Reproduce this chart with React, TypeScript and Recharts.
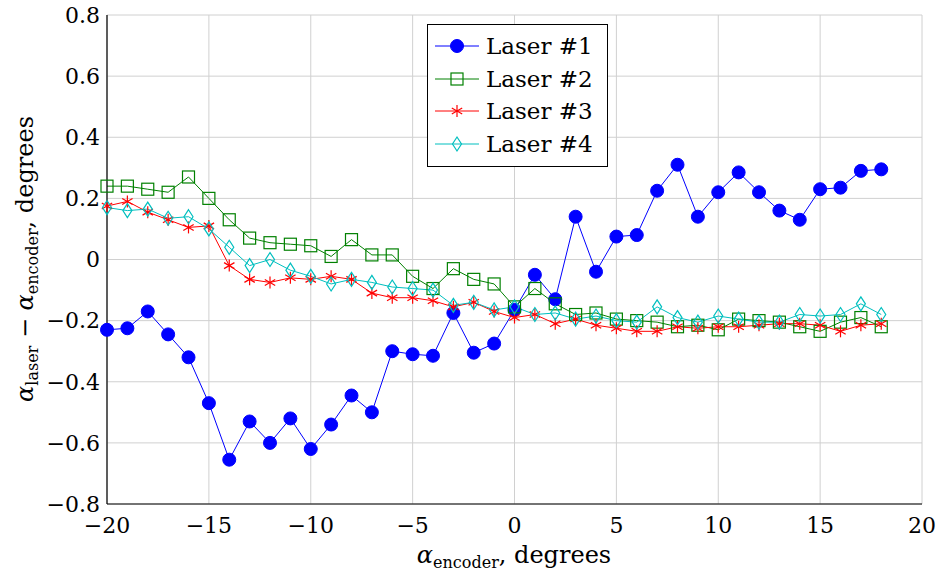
import React from 'react';
import {
  LineChart,
  Line,
  XAxis,
  YAxis,
  CartesianGrid
} from 'recharts';

const encoderAngles = [
  -20, -19, -18, -17, -16, -15, -14, -13, -12, -11, -10, -9, -8, -7, -6, -5, -4, -3, -2, -1,
  0, 1, 2, 3, 4, 5, 6, 7, 8, 9, 10, 11, 12, 13, 14, 15, 16, 17, 18
];

const laser1 = [
  -0.23, -0.225, -0.17, -0.245, -0.32, -0.47, -0.655, -0.53, -0.6, -0.52, -0.62, -0.54, -0.445, -0.5,
  -0.3, -0.31, -0.315, -0.175, -0.305, -0.275, -0.165, -0.05, -0.13, 0.14, -0.04, 0.075, 0.08, 0.225,
  0.31, 0.14, 0.22, 0.285, 0.22, 0.16, 0.13, 0.23, 0.235, 0.29, 0.295
];

const laser2 = [
  0.24, 0.24, 0.23, 0.22, 0.27, 0.2, 0.13, 0.07, 0.055, 0.05, 0.045, 0.01, 0.065, 0.015, 0.015,
  -0.055, -0.095, -0.03, -0.065, -0.08, -0.155, -0.095, -0.145, -0.18, -0.175, -0.195, -0.2, -0.205,
  -0.22, -0.215, -0.23, -0.195, -0.2, -0.205, -0.22, -0.235, -0.205, -0.19, -0.22
];

const laser3 = [
  0.175, 0.19, 0.155, 0.13, 0.105, 0.11, -0.02, -0.065, -0.075, -0.06, -0.065, -0.055, -0.065, -0.11,
  -0.125, -0.125, -0.135, -0.155, -0.14, -0.17, -0.19, -0.18, -0.21, -0.195, -0.215, -0.225, -0.235,
  -0.235, -0.22, -0.225, -0.22, -0.22, -0.215, -0.21, -0.21, -0.215, -0.235, -0.215, -0.21
];

const laser4 = [
  0.17, 0.16, 0.165, 0.135, 0.14, 0.1, 0.04, -0.02, 0.0, -0.035, -0.055, -0.08, -0.065, -0.075, -0.09,
  -0.095, -0.1, -0.15, -0.14, -0.165, -0.155, -0.18, -0.175, -0.195, -0.185, -0.2, -0.205, -0.155,
  -0.19, -0.205, -0.185, -0.195, -0.205, -0.205, -0.18, -0.185, -0.18, -0.145, -0.18
];

const xTicks = [-20, -15, -10, -5, 0, 5, 10, 15, 20];
const yTicks = [-0.8, -0.6, -0.4, -0.2, 0, 0.2, 0.4, 0.6, 0.8];

const seriesNames = ['Laser #1', 'Laser #2', 'Laser #3', 'Laser #4'];

const BLUE = '#0000ff';
const GREEN = '#008000';
const RED = '#ff0000';
const CYAN = '#00bfbf';
const FONT = "'DejaVu Serif', 'Liberation Serif', serif";

const data = encoderAngles.map((x, i) => ({
  x,
  l1: laser1[i],
  l2: laser2[i],
  l3: laser3[i],
  l4: laser4[i]
}));

const minus = (s: string, neg: boolean) => (neg ? `\u2212${s}` : s);
const fmtY = (v: number) => (Math.abs(v) < 1e-9 ? '0' : minus(Math.abs(v).toFixed(1), v < 0));
const fmtX = (v: number) => minus(String(Math.abs(v)), v < 0);

// marker shapes
const drawCircle = (cx: number, cy: number) => <circle cx={cx} cy={cy} r={6.5} fill={BLUE} stroke={BLUE} />;
const drawSquare = (cx: number, cy: number) => (
  <rect x={cx - 6} y={cy - 6} width={12} height={12} fill="none" stroke={GREEN} strokeWidth={1.2} />
);
const drawStar = (cx: number, cy: number) => {
  const r = 6;
  const a = r * Math.cos(Math.PI / 6);
  const b = r * Math.sin(Math.PI / 6);
  return (
    <g stroke={RED} strokeWidth={1.2}>
      <line x1={cx} y1={cy - r} x2={cx} y2={cy + r} />
      <line x1={cx - a} y1={cy - b} x2={cx + a} y2={cy + b} />
      <line x1={cx - a} y1={cy + b} x2={cx + a} y2={cy - b} />
    </g>
  );
};
const drawDiamond = (cx: number, cy: number) => (
  <path
    d={`M${cx},${cy - 7} L${cx + 4.5},${cy} L${cx},${cy + 7} L${cx - 4.5},${cy} Z`}
    fill="none"
    stroke={CYAN}
    strokeWidth={1.2}
  />
);

const markers = [drawCircle, drawSquare, drawStar, drawDiamond];
const colors = [BLUE, GREEN, RED, CYAN];

const makeDot = (idx: number) => (props: any) => {
  const { cx, cy, index } = props;
  if (cx == null || cy == null) return <g key={`d${idx}-${index}`} />;
  return <g key={`d${idx}-${index}`}>{markers[idx](cx, cy)}</g>;
};

// legend box drawn over the plot
const LegendBox = () => (
  <div
    style={{
      position: 'absolute',
      left: 427,
      top: 24,
      boxSizing: 'border-box',
      width: 181,
      height: 143,
      border: '1px solid #000',
      background: '#fff',
      padding: '5px 0 0 6px',
      fontFamily: FONT,
      fontSize: 23,
      lineHeight: '32.5px',
      color: '#000'
    }}
  >
    {seriesNames.map((name, i) => (
      <div key={name} style={{ display: 'flex', alignItems: 'center', height: 32.5 }}>
        <svg width={46} height={20} style={{ marginRight: 6 }}>
          <line x1={1} y1={10} x2={45} y2={10} stroke={colors[i]} strokeWidth={1} />
          {markers[i](23, 10)}
        </svg>
        <span>{name}</span>
      </div>
    ))}
  </div>
);

const YLabel = () => (
  <text
    transform="translate(33, 259) rotate(-90)"
    textAnchor="middle"
    fontFamily={FONT}
    fontSize={24}
    fill="#000"
  >
    <tspan fontStyle="italic">α</tspan>
    <tspan fontSize={16} dy={5}>laser</tspan>
    <tspan dy={-5}> − </tspan>
    <tspan fontStyle="italic">α</tspan>
    <tspan fontSize={16} dy={5}>encoder</tspan>
    <tspan dy={-5}>, degrees</tspan>
  </text>
);

const XLabel = () => (
  <text x={514} y={563} textAnchor="middle" fontFamily={FONT} fontSize={24} fill="#000">
    <tspan fontStyle="italic">α</tspan>
    <tspan fontSize={16} dy={5}>encoder</tspan>
    <tspan dy={-5}>, degrees</tspan>
  </text>
);

export default function App() {
  return (
    <div style={{ position: 'absolute', left: 0, top: 0, width: 943, height: 580, background: '#fff' }}>
      <LineChart
        width={943}
        height={580}
        data={data}
        margin={{ top: 15, right: 21, bottom: 0, left: 0 }}
        style={{ fontFamily: FONT }}
      >
        <CartesianGrid stroke="#d0d0d0" strokeWidth={1} />
        <XAxis
          dataKey="x"
          type="number"
          domain={[-20, 20]}
          ticks={xTicks}
          tickFormatter={fmtX}
          tickLine={false}
          tickSize={0}
          axisLine={{ stroke: '#000', strokeWidth: 1.2 }}
          tick={{ fill: '#000', fontSize: 22, fontFamily: FONT }}
          tickMargin={13}
          height={76}
        />
        <XAxis
          xAxisId="top"
          orientation="top"
          dataKey="x"
          type="number"
          domain={[-20, 20]}
          ticks={xTicks}
          tick={false}
          tickLine={false}
          axisLine={{ stroke: '#000', strokeWidth: 1.2 }}
          height={0}
        />
        <YAxis
          type="number"
          domain={[-0.8, 0.8]}
          ticks={yTicks}
          tickFormatter={fmtY}
          tickLine={false}
          tickSize={0}
          axisLine={{ stroke: '#000', strokeWidth: 1.2 }}
          tick={{ fill: '#000', fontSize: 22, fontFamily: FONT }}
          tickMargin={7}
          width={107}
        />
        <YAxis
          yAxisId="right"
          orientation="right"
          type="number"
          domain={[-0.8, 0.8]}
          ticks={yTicks}
          tick={false}
          tickLine={false}
          axisLine={{ stroke: '#000', strokeWidth: 1.2 }}
          width={0}
        />
        {['l1', 'l2', 'l3', 'l4'].map((key, i) => (
          <Line
            key={key}
            dataKey={key}
            name={seriesNames[i]}
            stroke={colors[i]}
            strokeWidth={1}
            dot={makeDot(i)}
            activeDot={false}
            isAnimationActive={false}
          />
        ))}
        <YLabel />
        <XLabel />
      </LineChart>
      <LegendBox />
    </div>
  );
}
